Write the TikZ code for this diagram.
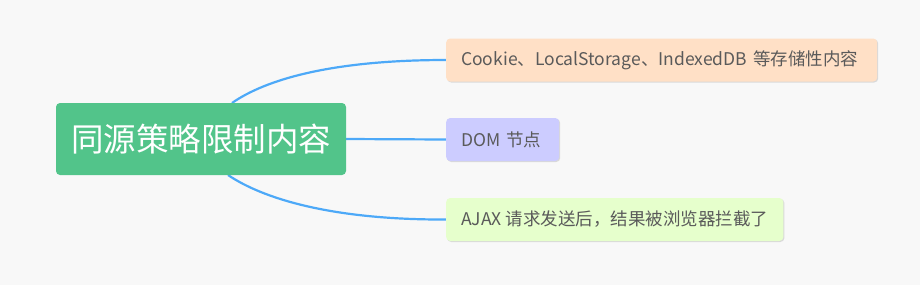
\documentclass[tikz,border=0pt]{standalone}
\usepackage{fontspec}
\setmainfont{Noto Sans CJK SC}
\usetikzlibrary{shadows,backgrounds}

\definecolor{pagebg}{RGB}{248,248,248}
\definecolor{rootgreen}{RGB}{82,196,138}
\definecolor{linkblue}{RGB}{77,169,248}
\definecolor{peach}{RGB}{255,224,198}
\definecolor{lavender}{RGB}{204,204,255}
\definecolor{limegreen}{RGB}{230,255,204}
\definecolor{leaftext}{RGB}{90,90,90}

\tikzset{
  rootbox/.style={fill=rootgreen, rounded corners=4pt, text=white,
    minimum width=290pt, minimum height=72pt, inner sep=0pt,
    font=\fontsize{32.5}{36}\selectfont},
  leafbox/.style={rounded corners=4pt, text=leaftext, anchor=west,
    minimum height=43pt, inner xsep=15pt, inner ysep=0pt,
    font=\fontsize{17.5}{20}\selectfont,
    drop shadow={shadow xshift=1pt, shadow yshift=-1pt, opacity=0.25, fill=gray}},
  link/.style={draw=linkblue, line width=2.2pt}
}

\begin{document}
\begin{tikzpicture}[x=1pt,y=-1pt]

\node[rootbox] (root) at (201,139) {同源策略限制内容};

\node[leafbox, fill=peach, text width=401pt, align=left] (store) at (446,60) {Cookie、LocalStorage、IndexedDB 等存储性内容};
\node[leafbox, fill=lavender, text width=83pt, align=left] (dom) at (446,139.5) {DOM 节点};
\node[leafbox, fill=limegreen] (ajax) at (446,219.5) {AJAX 请求发送后，结果被浏览器拦截了};

%curves from the root out to each leaf
\coordinate (rtop) at (232,103);
\coordinate (rbot) at (228,175);
\begin{pgfonlayer}{background}
\fill[pagebg] (0,0) rectangle (920,285);
\draw[link] (rtop) .. controls (265,80) and (330,60) .. (store.west);
\draw[link] (root.east) -- (dom.west);
\draw[link] (rbot) .. controls (262,198) and (330,220) .. (ajax.west);
\end{pgfonlayer}
\useasboundingbox (0,0) rectangle (920,285);

\end{tikzpicture}
\end{document}
